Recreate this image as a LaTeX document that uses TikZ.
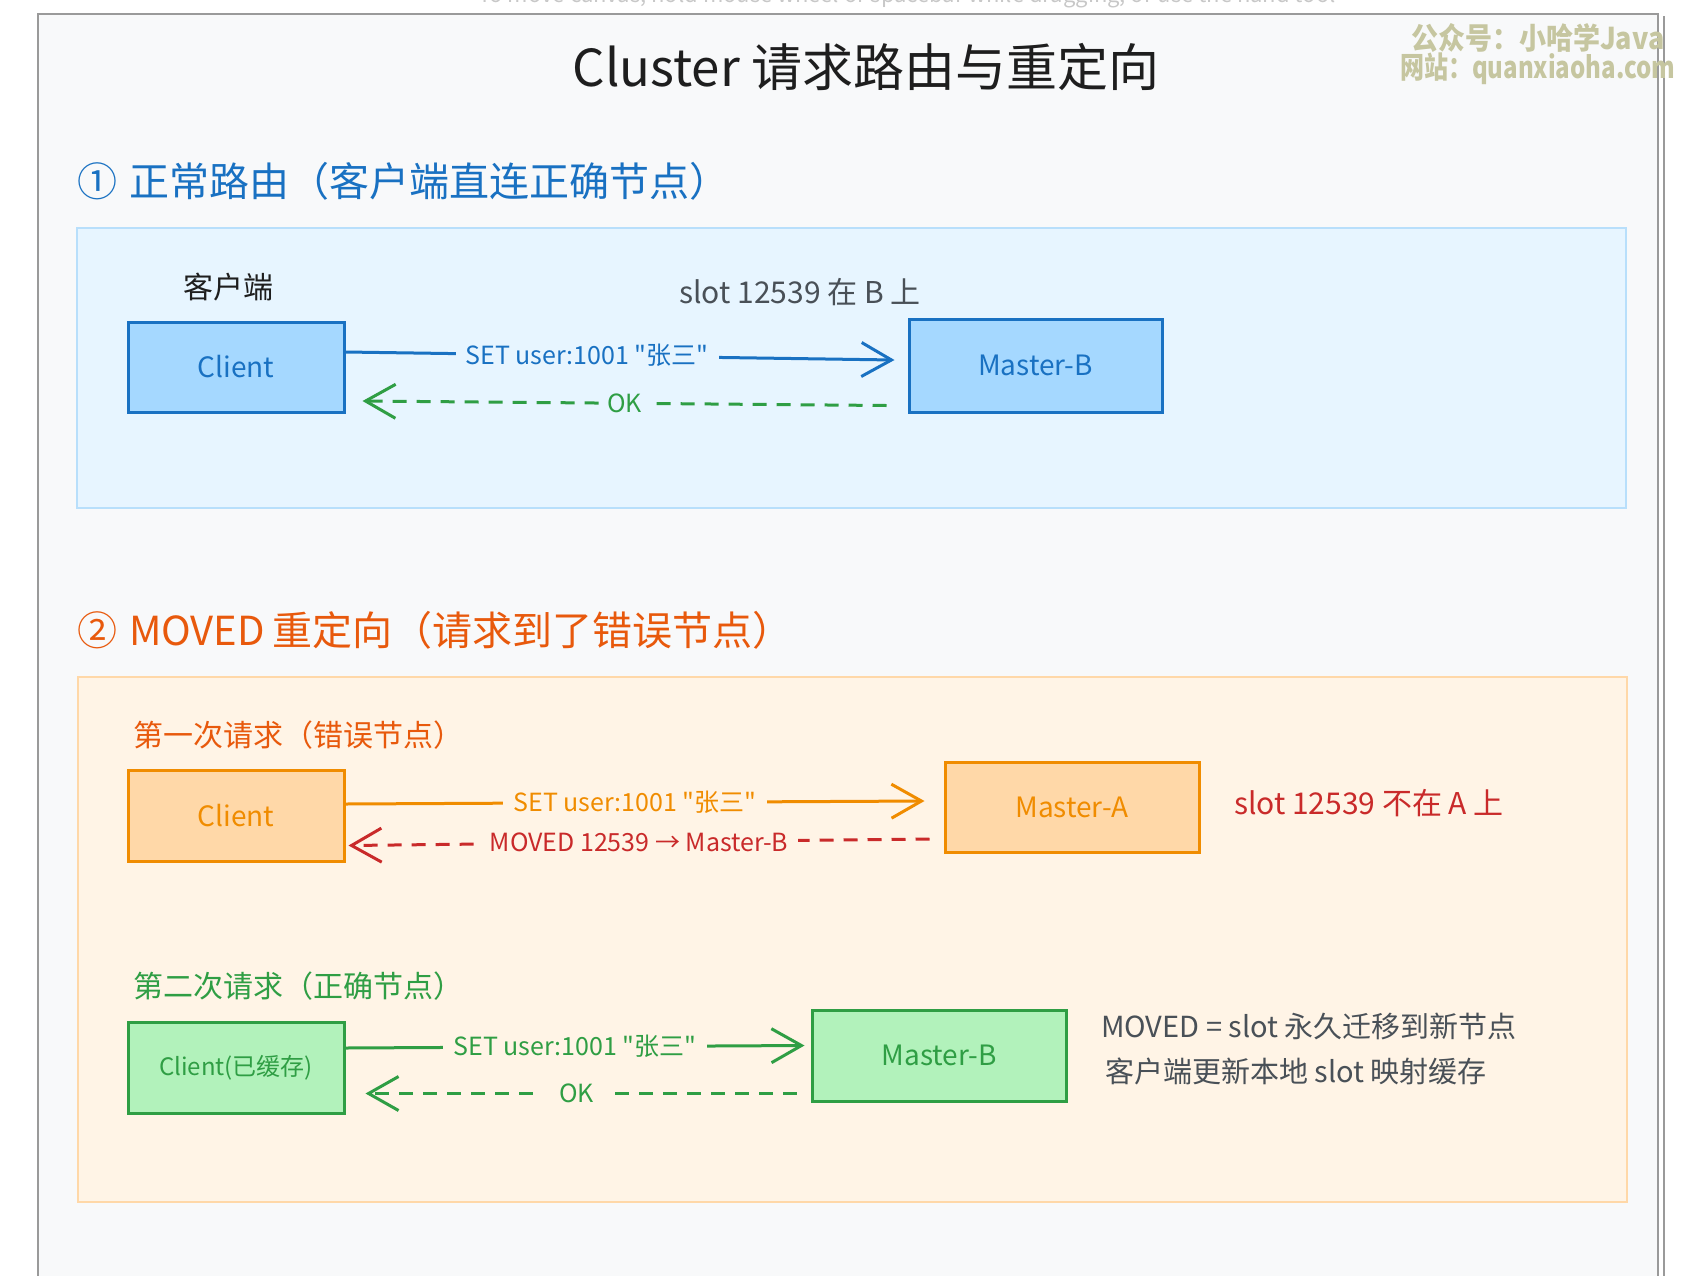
\documentclass[tikz,border=0pt]{standalone}
\usepackage{fontspec}
\setmainfont{Noto Sans CJK SC}
\newfontfamily\qf{Noto Sans CJK SC}
\usetikzlibrary{arrows.meta}
\definecolor{cframe}{HTML}{9A9A9A}
\definecolor{cbg}{HTML}{F8F9FA}
\definecolor{cdark}{HTML}{1E1E1E}
\definecolor{cgray}{HTML}{495057}
\definecolor{cblue}{HTML}{1971C2}
\definecolor{cbluef}{HTML}{A5D8FF}
\definecolor{cbluep}{HTML}{E7F5FF}
\definecolor{cbluepl}{HTML}{B8DFFB}
\definecolor{corange}{HTML}{F08C00}
\definecolor{corangeh}{HTML}{E8590C}
\definecolor{corangef}{HTML}{FFD8A8}
\definecolor{corangep}{HTML}{FFF4E6}
\definecolor{cred}{HTML}{C92A2A}
\definecolor{cgreen}{HTML}{2F9E44}
\definecolor{cgreenf}{HTML}{B2F2BB}
\definecolor{cwm}{HTML}{C6C6A0}
\definecolor{chint}{HTML}{C8C8C8}
\tikzset{
  fs/.style={font=\fontsize{#1}{#1}\selectfont},
  boxnode/.style={draw, line width=1.5pt, minimum width=108pt, minimum height=45pt, fs=14},
  bluebox/.style={boxnode, draw=cblue, fill=cbluef, text=cblue},
  orangebox/.style={boxnode, draw=corange, fill=corangef, text=corange},
  greenbox/.style={boxnode, draw=cgreen, fill=cgreenf, text=cgreen},
  lbl/.style={inner sep=5pt, font=\qf\fontsize{12.5}{12.5}\selectfont},
  solidarr/.style={line width=1.5pt, -{Straight Barb[length=15pt,width=17pt,line width=1.5pt]}},
  dasharr/.style={line width=1.5pt, dash pattern=on 7pt off 5pt, -{Straight Barb[length=15pt,width=17pt,line width=1.5pt]}},
  heading/.style={anchor=west, fs=20},
  note/.style={anchor=west, fs=14.5, text=cgray},
  wmark/.style={anchor=west, text=cwm, font=\fontsize{15}{15}\selectfont\bfseries},
}
\begin{document}
\begin{tikzpicture}[x=0.5pt,y=-0.5pt]
\useasboundingbox (0,0) rectangle (1698,1275);
\begin{scope}
\clip (0,0) rectangle (1698,1275);
\fill[white] (0,0) rectangle (1698,1275);
\node[fs=11, text=chint] (hint) at (907,-4) {To move canvas, hold mouse wheel or spacebar while dragging, or use the hand tool};
\draw[cframe, line width=1.3pt, fill=cbg] (38,14) rectangle (1658,1330);
\draw[cframe, line width=1pt] (1664,16) -- (1664,1330);

% title and watermark
\node[fs=25.5, text=cdark] (title) at (866,67) {Cluster 请求路由与重定向};
\node[wmark] (wm1) at (1404,38) {\scalebox{0.9}[1]{公众号：小哈学Java}};
\node[wmark] (wm2) at (1393,69) {\scalebox{0.8}[1]{网站：quanxiaoha.com}};

% section 1
\node[heading, text=cblue] (h1) at (70,181) {①\hspace{6pt}正常路由（客户端直连正确节点）};
\draw[cbluepl, line width=1pt, fill=cbluep] (77,228) rectangle (1626,508);
\node[fs=15, text=cdark] (lclient) at (228,287) {客户端};
\node[fs=15, text=cgray] (lslotb) at (800,292) {slot 12539 在 B 上};
\node[bluebox] (c1) at (236,367) {Client};
\node[bluebox, minimum width=126.5pt, minimum height=46.5pt] (mb1) at (1035.5,365.5) {Master-B};
\draw[solidarr, cblue] ([yshift=7.5pt]c1.east) -- node[lbl, fill=cbluep, text=cblue, pos=0.44] {SET user:1001 "张三"} ([xshift=-6.5pt,yshift=2.75pt]mb1.west);
\draw[dasharr, cgreen] ([xshift=-10.5pt,yshift=-20pt]mb1.west) -- node[lbl, fill=cbluep, text=cgreen, pos=0.5, inner sep=3pt] {OK} ([xshift=8.5pt,yshift=-17pt]c1.east);

% section 2
\node[heading, text=corangeh] (h2) at (70,630) {②\hspace{6pt}MOVED\hspace{4pt}重定向（请求到了错误节点）};
\draw[corangef, line width=1pt, fill=corangep] (78,677) rectangle (1627,1202);
\node[anchor=west, fs=15, text=corangeh] (lfirst) at (126,735) {第一次请求（错误节点）};
\node[orangebox, minimum height=45.5pt] (c2) at (236,815.5) {Client};
\node[orangebox, minimum width=127pt] (ma) at (1072,807) {Master-A};
\draw[solidarr, corange] ([yshift=5.75pt]c2.east) -- node[lbl, fill=corangep, text=corange, pos=0.5] {SET user:1001 "张三"} ([xshift=-9.5pt,yshift=3pt]ma.west);
\draw[dasharr, cred] ([xshift=-7pt,yshift=-16pt]ma.west) -- node[lbl, fill=corangep, text=cred, pos=0.5] {MOVED 12539 → Master-B} ([xshift=1.5pt,yshift=-15pt]c2.east);
\node[anchor=west, fs=15, text=cred] (lslota) at (1227,803) {slot 12539 不在 A 上};

\node[anchor=west, fs=15, text=cgreen] (lsecond) at (126,986) {第二次请求（正确节点）};
\node[greenbox, minimum height=45.5pt, fs=12] (c3) at (236,1067.5) {Client(已缓存)};
\node[greenbox, minimum width=127pt, minimum height=45.5pt] (mb3) at (939,1055.5) {Master-B};
\draw[solidarr, cgreen] ([yshift=9.75pt]c3.east) -- node[lbl, fill=corangep, text=cgreen, pos=0.5] {SET user:1001 "张三"} ([xshift=-3pt,yshift=5pt]mb3.west);
\draw[dasharr, cgreen] ([xshift=-7pt,yshift=-19pt]mb3.west) -- node[lbl, fill=corangep, text=cgreen, pos=0.51, inner sep=8pt] {OK} ([xshift=10pt,yshift=-13pt]c3.east);
\node[note] (n1) at (1094,1026) {MOVED = slot 永久迁移到新节点};
\node[note] (n2) at (1098,1071) {客户端更新本地 slot 映射缓存};
\end{scope}
\end{tikzpicture}
\end{document}
